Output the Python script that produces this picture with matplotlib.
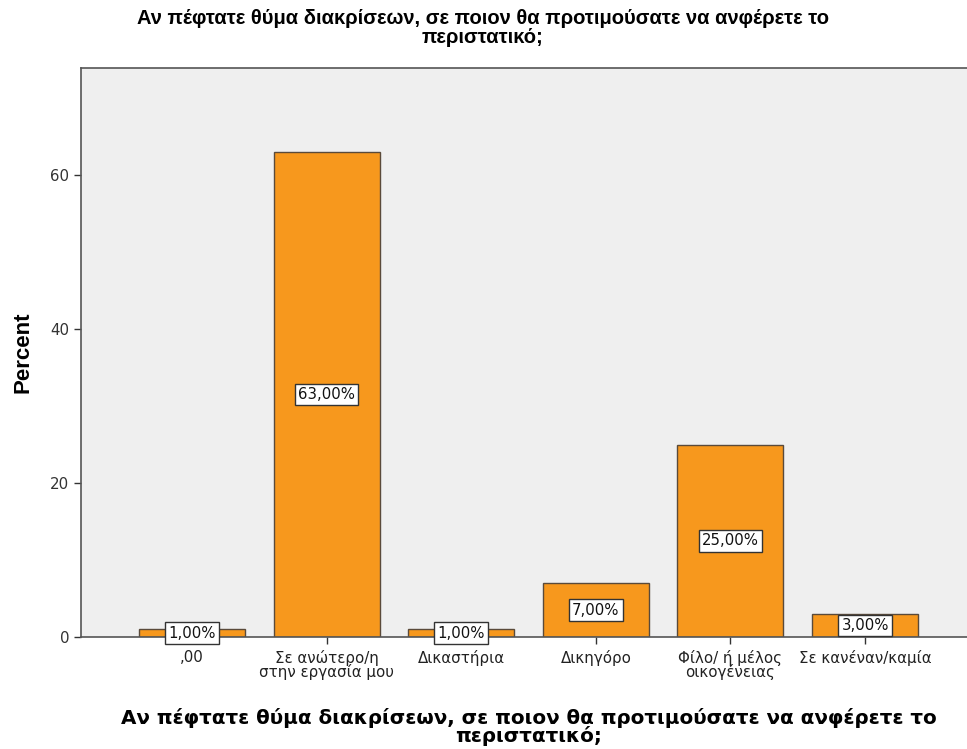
import matplotlib
matplotlib.use("Agg")
import matplotlib.pyplot as plt
import numpy as np

categories = [",00", "Σε ανώτερο/η\nστην εργασία μου", "Δικαστήρια", "Δικηγόρο",
              "Φίλο/ ή μέλος\nοικογένειας", "Σε κανέναν/καμία"]
percent = [1.0, 63.0, 1.0, 7.0, 25.0, 3.0]
yticks = [0, 20, 40, 60]
title = "Αν πέφτατε θύμα διακρίσεων, σε ποιον θα προτιμούσατε να ανφέρετε το\nπεριστατικό;"

plt.rcParams['font.family'] = ['DejaVu Sans']

fig = plt.figure(figsize=(9.67, 7.49), dpi=100)
ax = fig.add_axes([81/967, 1-637/749, (976-81)/967, (637-68)/749])
ax.set_facecolor('#efefef')

x = np.arange(len(categories))
ax.bar(x, percent, width=0.787, color='#f7981d', edgecolor='#5a4a3a', linewidth=1.0, zorder=2)

for xi, v in zip(x, percent):
    ax.text(xi, v/2, f"{v:.2f}%".replace('.', ','), ha='center', va='center', fontsize=10.7,
            color='#111111', zorder=3,
            bbox=dict(boxstyle='square,pad=0.22', facecolor='white', edgecolor='#333333', linewidth=1.0))

ax.set_xlim(-0.824, 5.824)
ax.set_ylim(0, 73.9)
ax.set_xticks(x)
ax.set_xticklabels(categories, fontsize=10.8, linespacing=0.85, color='#222222')
ax.set_yticks(yticks)
ax.set_yticklabels([str(t) for t in yticks], fontsize=10.8, color='#333333')
ax.tick_params(axis='both', direction='out', length=5, width=1, color='#333333')
ax.tick_params(axis='x', pad=4)

for s in ['left', 'bottom', 'top']:
    ax.spines[s].set_color('#555555')
    ax.spines[s].set_linewidth(1.2)
ax.spines['right'].set_visible(False)

ax.set_ylabel("Percent", fontsize=16, fontweight='bold', labelpad=12,
              family=['Liberation Sans', 'DejaVu Sans'])
fig.text(483/967, 1-28/749, title, ha='center', va='center', fontsize=14.5, fontweight='bold',
         family=['Liberation Sans', 'DejaVu Sans'], linespacing=0.95)
fig.text(529/967, 1-727/749, title, ha='center', va='center', fontsize=14.3, fontweight='bold',
         family=['DejaVu Sans'], linespacing=0.85)

fig.savefig("out.png", dpi=100)
